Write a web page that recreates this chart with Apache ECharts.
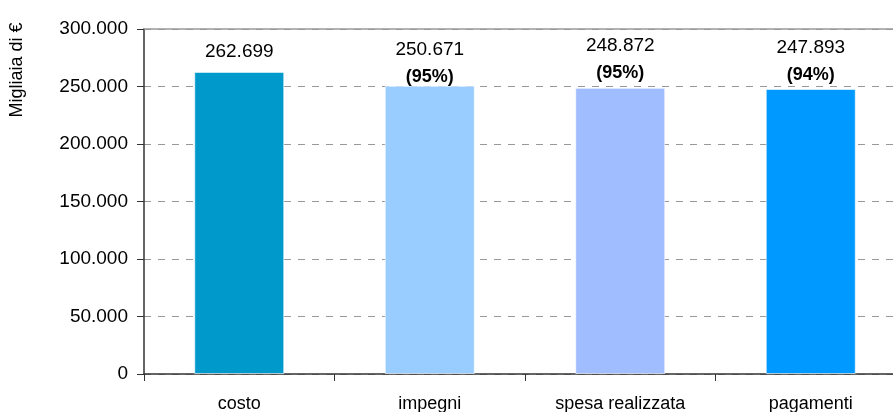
<!DOCTYPE html>
<html><head><meta charset="utf-8">
<script src="https://cdn.jsdelivr.net/npm/echarts@6/dist/echarts.min.js"></script>
<style>html,body{margin:0;padding:0;background:#fff}#c{width:893px;height:412px}</style>
</head><body><div id="c"></div>
<script>
const categories = ['costo', 'impegni', 'spesa realizzata', 'pagamenti'];
const values = [262699, 250671, 248872, 247893];
const percents = [null, '95%', '95%', '94%'];
const barColors = ['#0099CC', '#99CCFF', '#9FBDFF', '#0099FF'];
const yTicks = [0, 50000, 100000, 150000, 200000, 250000, 300000];

function fmt(v){ return String(Math.round(v)).replace(/\B(?=(\d{3})+(?!\d))/g, '.'); }
const labelDist = [10, 0, 6, 5];
const FONT = '"Liberation Sans", Arial, sans-serif';
const FS = 19;

const data = values.map((v, i) => ({
  value: v,
  itemStyle: { color: barColors[i], borderColor: 'rgba(255,255,255,0.6)', borderWidth: 1 },
  label: {
    show: true, position: 'top', distance: labelDist[i],
    formatter: percents[i] ? '{v|' + fmt(v) + '}\n{p|(' + percents[i] + ')}' : '{v|' + fmt(v) + '}',
    rich: {
      v: { fontSize: FS, fontFamily: FONT, color: '#000', lineHeight: percents[i] ? 36 : 20 },
      p: { fontSize: FS - 1, fontFamily: FONT, color: '#000', fontWeight: 'bold', lineHeight: 18 }
    }
  }
}));

const chart = echarts.init(document.getElementById('c'), null, { renderer: 'canvas' });
chart.setOption({
  animation: false,
  grid: { left: 144, width: 762, top: 29, height: 345, containLabel: false, outerBoundsMode: 'none' },
  xAxis: [{
    type: 'category', data: categories, boundaryGap: true,
    axisLine: { lineStyle: { color: '#333', width: 1.5 } },
    axisTick: { show: true, length: 7, lineStyle: { color: '#333' } },
    axisLabel: { fontSize: FS - 1, fontFamily: FONT, color: '#000', margin: 21 }
  }, {
    type: 'category', data: categories, position: 'top',
    axisLine: { show: true, lineStyle: { color: '#999', width: 1.5 } },
    axisTick: { show: false }, axisLabel: { show: false }
  }],
  yAxis: {
    type: 'value', min: 0, max: 300000, interval: 50000,
    axisLine: { show: true, lineStyle: { color: '#333', width: 1.5 } },
    axisTick: { show: true, length: 7, lineStyle: { color: '#333' } },
    axisLabel: { fontSize: FS, fontFamily: FONT, color: '#000', margin: 16,
      formatter: v => yTicks.includes(v) ? fmt(v) : '' },
    splitLine: { show: true, lineStyle: { color: '#999', type: [7, 7], width: 1 } }
  },
  graphic: [{
    type: 'text', x: 17, y: 70, rotation: Math.PI / 2,
    style: { text: 'Migliaia di €', fontSize: 18, fontFamily: FONT, fill: '#000',
      align: 'center', verticalAlign: 'middle' }
  }],
  series: [{
    type: 'bar', data: data, barWidth: 90, xAxisIndex: 0
  }]
});
</script></body></html>
